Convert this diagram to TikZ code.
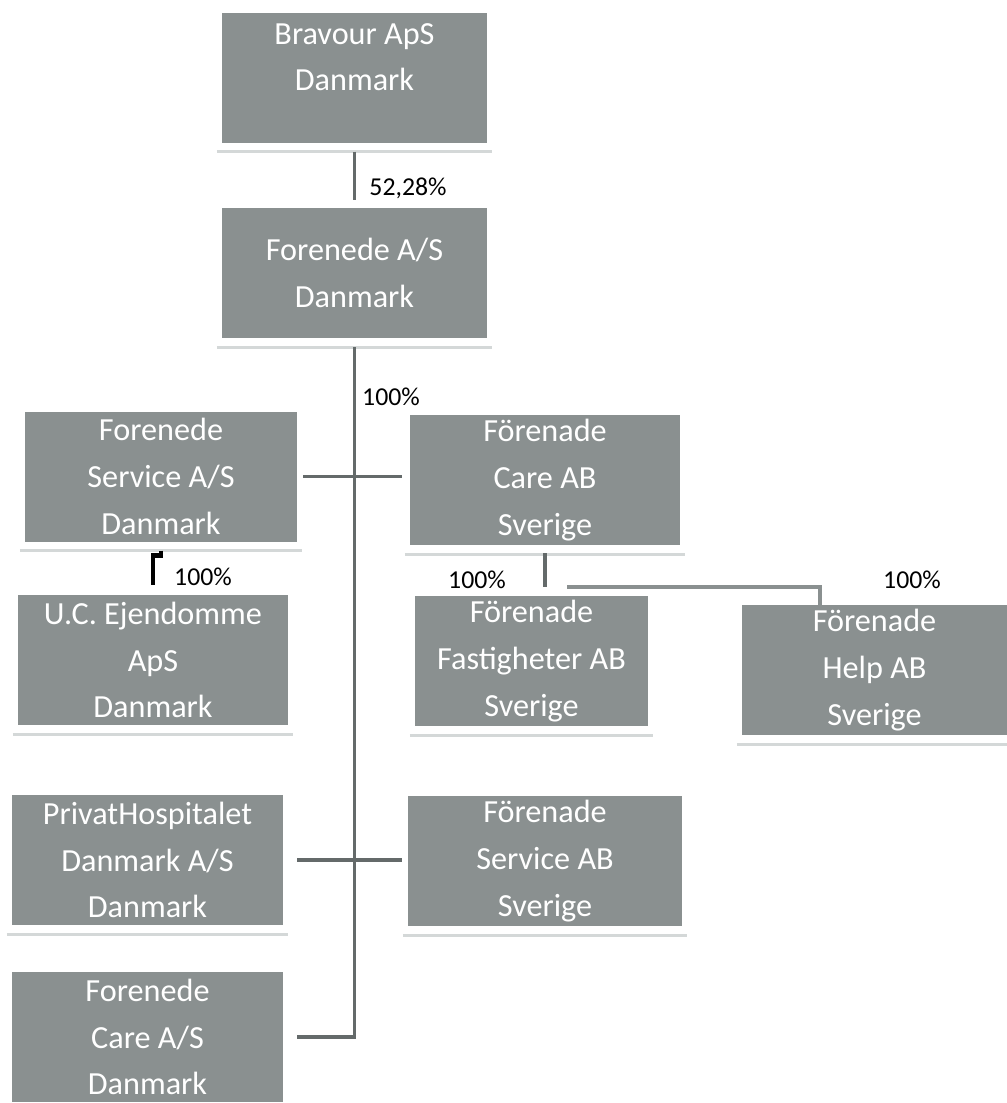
\documentclass[tikz,border=0pt]{standalone}
\usepackage{fontspec}
\setmainfont{Carlito}
\definecolor{firmgray}{RGB}{138,144,144}
\definecolor{linkgray}{RGB}{100,106,106}
\definecolor{shadegray}{RGB}{212,216,216}

\begin{document}
\begin{tikzpicture}[x=0.3mm, y=-0.3mm,
  firm/.style={fill=firmgray, text=white, inner sep=0pt, align=center,
    minimum width=#1*0.3mm, minimum height=39mm,
    font=\fontsize{27.5}{40}\selectfont},
  firm/.default=270,
  link/.style={draw=linkgray, line width=2.6pt},
  shade/.style={draw=shadegray, line width=2.5pt},
  pct/.style={font=\fontsize{22}{26}\selectfont}]
  \useasboundingbox (0,0) rectangle (1007,1103);

  % companies
  \node[firm=265] (bravour)    at (354.5,77.5) {Bravour ApS\\Danmark\\[-17pt]\strut};
  \node[firm=265] (forenede)   at (354.5,273)  {Forenede A/S\\Danmark};
  \node[firm=272] (fservice)   at (161,476.5)  {Forenede\\Service A/S\\Danmark};
  \node[firm]     (ucejd)      at (153,660)    {U.C. Ejendomme\\ApS\\Danmark};
  \node[firm]     (fcareab)    at (545,480)    {Förenade\\Care AB\\Sverige};
  \node[firm=233] (fastig)     at (531.5,661)  {Förenade\\Fastigheter AB\\Sverige};
  \node[firm=265] (helpab)     at (874.5,670)  {Förenade\\Help AB\\Sverige};
  \node[firm=271] (privat)     at (147.5,860)  {PrivatHospitalet\\Danmark A/S\\Danmark};
  \node[firm=274] (fserviceab) at (545,861)    {Förenade\\Service AB\\Sverige};
  \node[firm=271] (fcareas)    at (147.5,1037) {Forenede\\Care A/S\\Danmark};

  \foreach \n in {bravour,forenede,fservice,ucejd,fcareab,fastig,helpab,privat,fserviceab}
    \draw[shade] ([shift={(-5,9)}]\n.south west) -- ([shift={(5,9)}]\n.south east);

  % shares
  \node[pct] (p1) at (408,188) {52,28\%};
  \node[pct] (p2) at (391,397) {100\%};
  \node[pct] (p3) at (203,577) {100\%};
  \node[pct] (p4) at (477,580) {100\%};
  \node[pct] (p5) at (912,580) {100\%};

  % ownership lines
  \draw[link, shorten <=2.7mm, shorten >=2.4mm] (bravour.south) -- (forenede.north);
  \draw[link, shorten <=2.7mm, shorten >=4.2mm] (forenede.south) |- (fcareas.east);
  \draw[link, shorten <=1.8mm, shorten >=2.4mm] (fservice.east) -- (fservice.east -| fcareab.west);
  \draw[link, shorten <=4.2mm, shorten >=1.8mm] (privat.east) -- (privat.east -| fserviceab.west);
  \draw[line width=4pt, shorten <=2.7mm, shorten >=3mm] (fservice.south) -- ++(0,14) -| (ucejd.north);
  \draw[link, shorten <=2.4mm, shorten >=2.7mm] (fcareab.south) -- (fcareab.south |- fastig.north);
  \coordinate (bus) at ([shift={(22,42)}]fcareab.south);
  \draw[link, draw=firmgray, line width=3pt] (bus) -| ([shift={(-54.5,0)}]helpab.north);
\end{tikzpicture}
\end{document}
